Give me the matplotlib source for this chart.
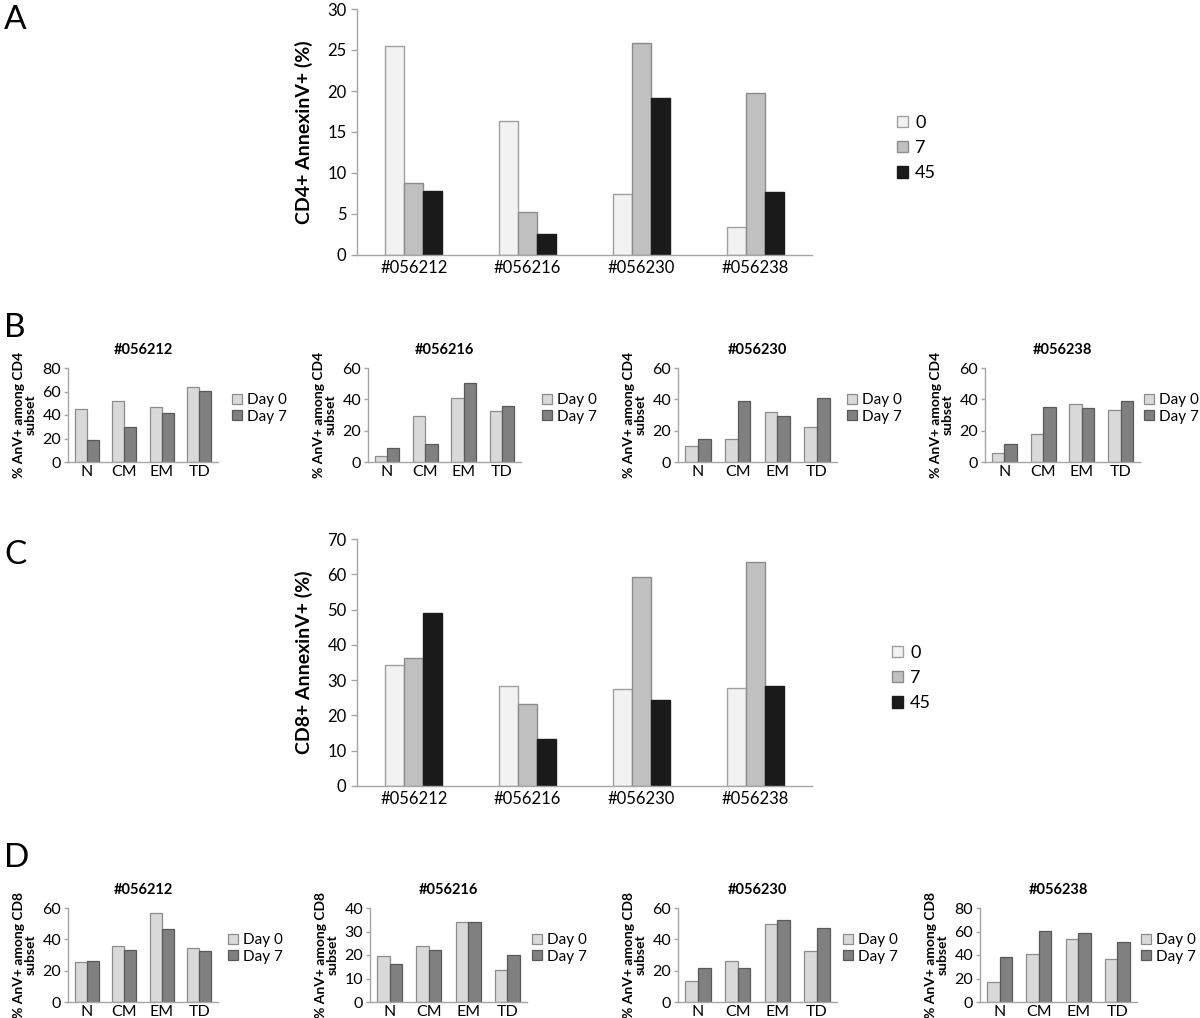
import matplotlib
matplotlib.use("Agg")
import matplotlib.pyplot as plt
import numpy as np

plt.rcParams['font.family'] = ['Lato', 'DejaVu Sans']

donors = ["#056212", "#056216", "#056230", "#056238"]
days_big = ["0", "7", "45"]
subsets = ["N", "CM", "EM", "TD"]
days_small = ["Day 0", "Day 7"]

# Panel A: CD4+ AnnexinV+ (%) per donor, days 0 / 7 / 45
cd4_day0 = [25.5, 16.4, 7.4, 3.4]
cd4_day7 = [8.8, 5.2, 25.9, 19.7]
cd4_day45 = [7.8, 2.5, 19.1, 7.7]

# Panel C: CD8+ AnnexinV+ (%)
cd8_day0 = [34.2, 28.2, 27.5, 27.8]
cd8_day7 = [36.2, 23.2, 59.1, 63.6]
cd8_day45 = [49.0, 13.2, 24.3, 28.2]

# Panel B: CD4 subsets (Day 0, Day 7) per donor
b_day0 = {"#056212": [45.0, 51.7, 47.0, 64.2],
          "#056216": [4.0, 29.2, 40.6, 32.8],
          "#056230": [9.9, 14.8, 31.9, 22.6],
          "#056238": [5.7, 17.8, 37.2, 33.4]}
b_day7 = {"#056212": [18.9, 30.1, 41.7, 60.3],
          "#056216": [8.9, 11.4, 50.7, 35.9],
          "#056230": [14.8, 38.9, 29.4, 40.6],
          "#056238": [11.4, 35.1, 34.2, 38.9]}
b_ymax = [80, 60, 60, 60]

# Panel D: CD8 subsets
d_day0 = {"#056212": [25.3, 36.0, 56.7, 34.3],
          "#056216": [19.4, 24.0, 33.9, 13.7],
          "#056230": [13.3, 26.1, 49.5, 32.3],
          "#056238": [17.4, 40.9, 53.4, 36.3]}
d_day7 = {"#056212": [25.9, 33.0, 46.5, 32.5],
          "#056216": [16.3, 22.0, 33.9, 20.1],
          "#056230": [21.8, 21.6, 52.3, 47.1],
          "#056238": [38.3, 60.6, 58.3, 51.4]}
d_ymax = [60, 40, 60, 80]

W, H = 1200, 1018
fig = plt.figure(figsize=(W / 100, H / 100), dpi=100)

def px_axes(left, right, top, bottom):
    return fig.add_axes([left / W, 1 - bottom / H, (right - left) / W, (bottom - top) / H])

def fpt(x, y):
    return (x / W, 1 - y / H)

AXC = "#a6a6a6"

def style(ax):
    for s in ["top", "right"]:
        ax.spines[s].set_visible(False)
    for s in ["left", "bottom"]:
        ax.spines[s].set_color(AXC)
        ax.spines[s].set_linewidth(1.0)
    ax.tick_params(axis="y", color=AXC, length=4, width=1.0)
    ax.tick_params(axis="x", length=0)

def big_panel(top, bottom, vals, ymax, step, ylabel, legx, legy):
    ax = px_axes(357, 812, top, bottom)
    x = np.arange(len(donors))
    w = 0.167
    cols = ["#f2f2f2", "#c0c0c0", "#1a1a1a"]
    edges = ["#a0a0a0", "#8c8c8c", "#1a1a1a"]
    for i, (v, c, e, lab) in enumerate(zip(vals, cols, edges, days_big)):
        ax.bar(x + (i - 1) * w, v, w, color=c, edgecolor=e, linewidth=1.0, label=lab)
    ax.set_xlim(-0.5, len(donors) - 0.5)
    ax.set_ylim(0, ymax)
    ax.set_yticks(np.arange(0, ymax + 1, step))
    ax.set_xticks(x)
    ax.set_xticklabels(donors)
    ax.tick_params(labelsize=12)
    style(ax)
    ax.set_ylabel(ylabel, fontsize=14, fontweight="bold", labelpad=10)
    handles, labels = ax.get_legend_handles_labels()
    fig.legend(handles, labels, loc="center left", bbox_to_anchor=fpt(legx, legy),
               bbox_transform=fig.transFigure, frameon=False, borderpad=0, borderaxespad=0,
               fontsize=13, handlelength=0.6, handleheight=0.6, handletextpad=0.4,
               labelspacing=0.52)
    return ax

big_panel(9, 255, [cd4_day0, cd4_day7, cd4_day45], 30, 5, "CD4+ AnnexinV+ (%)", 897, 148)
big_panel(539, 786, [cd8_day0, cd8_day7, cd8_day45], 70, 10, "CD8+ AnnexinV+ (%)", 892, 678)

def small_panel(left, right, top, bottom, v0, v7, ymax, title, ylabel, legx, legy):
    ax = px_axes(left, right, top, bottom)
    x = np.arange(len(subsets))
    w = 0.32
    ax.bar(x - w / 2, v0, w, color="#d9d9d9", edgecolor="#8c8c8c", linewidth=0.9, label=days_small[0])
    ax.bar(x + w / 2, v7, w, color="#808080", edgecolor="#595959", linewidth=0.9, label=days_small[1])
    ax.set_xlim(-0.5, len(subsets) - 0.5)
    ax.set_ylim(0, ymax)
    ax.set_yticks(np.arange(0, ymax + 1, 20 if ymax != 40 else 10))
    ax.set_xticks(x)
    ax.set_xticklabels(subsets)
    ax.tick_params(labelsize=11.5, pad=2)
    style(ax)
    ax.tick_params(axis="y", length=3)
    ax.set_title(title, fontsize=10.5, fontweight="bold", pad=10)
    ax.set_ylabel(ylabel, fontsize=10, fontweight="bold", linespacing=1.0, labelpad=4)
    handles, labels = ax.get_legend_handles_labels()
    fig.legend(handles, labels, loc="center left", bbox_to_anchor=fpt(legx, legy),
               bbox_transform=fig.transFigure, frameon=False, borderpad=0, borderaxespad=0,
               fontsize=11, handlelength=0.65, handleheight=0.65, handletextpad=0.3,
               labelspacing=0.15)
    return ax

b_pos = [(68, 218), (368, 521), (678, 837), (985, 1140)]
b_leg = [232, 542, 847, 1144]
for (l, r), lx, d, ym in zip(b_pos, b_leg, donors, b_ymax):
    small_panel(l, r, 368, 462, b_day0[d], b_day7[d], ym, d, "% AnV+ among CD4\nsubset", lx, 408.5)

d_pos = [(68, 218), (370, 527), (678, 837), (980, 1137)]
d_leg = [228, 532, 843, 1141]
for (l, r), lx, d, ym in zip(d_pos, d_leg, donors, d_ymax):
    small_panel(l, r, 908, 1002, d_day0[d], d_day7[d], ym, d, "% AnV+ among CD8\nsubset", lx, 948.5)

for letter, yy in [("A", 20), ("B", 328), ("C", 555), ("D", 858)]:
    fig.text(4 / W, 1 - yy / H, letter, fontsize=24, va="center", ha="left")

fig.savefig("out.png", dpi=100, facecolor="white")
